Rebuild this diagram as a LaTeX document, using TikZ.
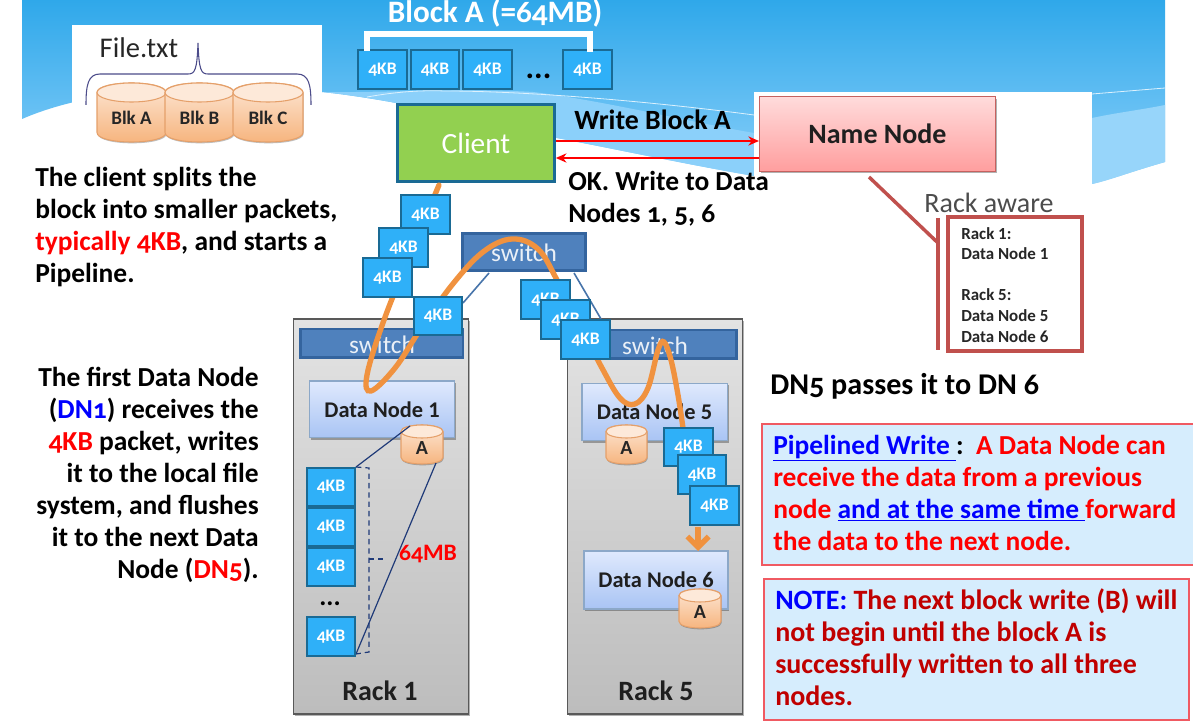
\documentclass[tikz,border=0pt]{standalone}
\usepackage{fontspec}
\usetikzlibrary{shadows,arrows.meta}
\setmainfont[Ligatures=TeX]{Carlito}
\newfontfamily\osf[Numbers=OldStyle,Ligatures=TeX]{Carlito}
\definecolor{skyT}{HTML}{2FA8EA}
\definecolor{skyL}{HTML}{8BD0FA}
\definecolor{pktF}{HTML}{2FB0F8}
\definecolor{pktD}{HTML}{1A6A94}
\definecolor{swF}{HTML}{4F81BD}
\definecolor{swD}{HTML}{34649E}
\definecolor{orangeL}{HTML}{F0923F}
\definecolor{rackR}{HTML}{C0504D}
\definecolor{infoF}{HTML}{D6EDFD}
\definecolor{infoD}{HTML}{F05A62}
\definecolor{navy}{HTML}{1F3A78}
\definecolor{dkred}{HTML}{C00000}
\definecolor{cylT}{HTML}{FDE9D9}
\definecolor{cylB}{HTML}{F6B27A}
\definecolor{cylD}{HTML}{E5A06A}
\definecolor{dnT}{HTML}{DFE9FD}
\definecolor{dnB}{HTML}{A9C4F4}
\definecolor{dnD}{HTML}{8CA8C8}
\definecolor{clientF}{HTML}{92D050}
\newcommand\rd[1]{\textcolor{red}{#1}}
\newcommand\bl[1]{\textcolor{blue}{#1}}
\tikzset{
  pkt/.style={draw=pktD,line width=1.6pt,fill=pktF,text=white,font=\osf\bfseries\fontsize{13.2}{14}\selectfont,
    minimum width=36.5pt,minimum height=29pt,inner sep=0pt},
  switchbox/.style={draw=swD,line width=2pt,fill=swF,inner sep=0pt},
  switchtext/.style={text=white!88!swF,font=\fontsize{19}{20}\selectfont,inner sep=0pt},
  rackbox/.style={draw=black!65,line width=1pt,top color=black!11,bottom color=black!26,minimum width=131pt,minimum height=296pt,inner sep=0pt,
    drop shadow={shadow xshift=1pt,shadow yshift=-1.5pt,opacity=.3,fill=black}},
  dnbox/.style={draw=dnD,line width=1pt,top color=dnT,bottom color=dnB,
    font=\bfseries\fontsize{16.8}{18}\selectfont,text=black!88,inner sep=0pt,
    drop shadow={shadow xshift=1pt,shadow yshift=-1.5pt,opacity=.3,fill=black}},
  para/.style={font=\osf\bfseries\fontsize{20.6}{24}\selectfont,inner sep=0pt,text=black},
  infobox/.style={draw=infoD,line width=1.6pt,fill=infoF,inner sep=0pt},
  redarrow/.style={draw=red,line width=1pt,-{Stealth[length=8pt,width=7pt]}},
  orangeflow/.style={draw=orangeL,line width=4pt,line cap=round},
  link/.style={draw=#1,line width=1.2pt},
  racklabel/.style={font=\bfseries\fontsize{21}{22}\selectfont,text=black!88,inner sep=0pt},
  cyllabel/.style={font=\bfseries\fontsize{#1}{#1}\selectfont,text=black!85,inner sep=0pt}
}
% \cyl{name}{x0}{y0}{x1}{y1}{ry}{label size}{label}
\newcommand\cyl[8]{%
  \pgfmathsetmacro\cxm{(#2+#4)/2}\pgfmathsetmacro\cxr{(#4-#2)/2}
  \pgfmathsetmacro\cya{#3+#6}\pgfmathsetmacro\cyb{#5-#6}\pgfmathsetmacro\cyk{#5+#6/3}
  \shade[top color=cylT,bottom color=cylB,draw=cylD,line width=.8pt,
     drop shadow={shadow xshift=.5pt,shadow yshift=-1pt,opacity=.25,fill=black}]
    (#2,\cya) -- (#2,\cyb) .. controls (#2,\cyk) and (#4,\cyk) .. (#4,\cyb) -- (#4,\cya)
    .. controls (#4,#3-#6/3) and (#2,#3-#6/3) .. (#2,\cya) -- cycle;
  \draw[draw=cylD,line width=.8pt,fill=cylT] (\cxm,\cya) ellipse [x radius=\cxr, y radius=#6];
  \node[cyllabel=#7] (#1) at (\cxm,{(#3+#5)/2+#6*.55}) {#8};
}
\begin{document}
\begin{tikzpicture}[x=.75pt,y=-.75pt]
\useasboundingbox (0,0) rectangle (1193,723);
% background waves
\fill[white] (0,0) rectangle (1193,723);
\shade[top color=skyT,bottom color=skyL,shading angle=0]
  (22,0) -- (1165,0) -- (1165,162) .. controls (1130,172) and (1110,180) .. (1092,184)
  -- (754,176) .. controls (690,165) and (620,150) .. (557,138) .. controls (500,125) and (400,100) .. (322,92)
  .. controls (220,82) and (100,85) .. (22,119) -- cycle;
\fill[skyL] (322,92) .. controls (370,93) and (470,88) .. (533,92) .. controls (600,100) and (690,122) .. (754,133)
  -- (754,176) .. controls (690,165) and (620,150) .. (557,138) .. controls (500,125) and (400,100) .. (322,92) -- cycle;
\fill[skyL!90!white] (1092,118) .. controls (1115,113) and (1140,110) .. (1165,105) -- (1165,162) .. controls (1130,172) and (1110,180) .. (1092,184) -- cycle;
\draw[white!70!skyL,line width=.6pt] (1092,94) -- (1165,88);
\draw[white!70!skyL,line width=.6pt] (367,97) .. controls (395,92) and (420,90) .. (445,91) .. controls (520,91) and (640,100) .. (754,115);
\fill[white] (72,25) rectangle (322,110);
\fill[white] (754,92) rectangle (1092,190);

% file + blocks
\draw[black!40!blue!40!gray,line width=.8pt] (86,105) .. controls (86,85) and (88,74) .. (100,74) -- (188,74)
  .. controls (195,74) and (197,70) .. (198,43) .. controls (199,70) and (201,74) .. (208,74) -- (297,74)
  .. controls (309,74) and (311,85) .. (311,105);
\node[font=\fontsize{21.4}{22}\selectfont,text=black!85,inner sep=0pt] (filetxt) at (139,48) {File.txt};
\cyl{blka}{97}{83}{166}{142}{9.5}{14.3}{Blk A}
\cyl{blkb}{165}{83}{234}{142}{9.5}{14.3}{Blk B}
\cyl{blkc}{233}{83}{303}{142}{9.5}{14.3}{Blk C}

% top block strip
\node[font=\osf\bfseries\fontsize{23.4}{24}\selectfont,text=white,inner sep=0pt] (blocka) at (495,13) {Block A (=64MB)};
\node[pkt] (t1) at (382.5,69.5) {4KB};
\node[pkt] (t2) at (435,69.5) {4KB};
\node[pkt] (t3) at (487.5,69.5) {4KB};
\node[pkt] (t4) at (587.5,69.5) {4KB};
\draw[white,line width=3.8pt] (367,51) -- (367,34) -- (590,34) -- (590,52);
\node[font=\bfseries\fontsize{24}{24}\selectfont,inner sep=0pt] (dotsa) at (538.5,76) {...};

% client & name node
\node[draw=pktD,line width=1.8pt,fill=clientF,minimum width=118pt,minimum height=58pt,inner sep=0pt,text=white,font=\fontsize{22}{24}\selectfont] (client) at (476,143) {Client};
\node[draw=rackR!90,line width=.9pt,top color=red!14!white,bottom color=red!38!white,minimum width=177pt,minimum height=56pt,inner sep=0pt,
  font=\bfseries\fontsize{21}{22}\selectfont,text=black!88,drop shadow={shadow xshift=1pt,shadow yshift=-1.5pt,opacity=.3,fill=black}] (namenode) at (877.5,134) {Name Node};
\coordinate (wa) at (client.east |- 0,141);
\coordinate (wb) at (namenode.west |- 0,141);
\coordinate (oa) at (namenode.west |- 0,158);
\coordinate (ob) at (client.east |- 0,158);
\draw[redarrow] (wa) -- (wb);
\draw[redarrow] (oa) -- (ob);
\node[para,anchor=west,font=\bfseries\fontsize{20.9}{24}\selectfont] (writea) at (574,120) {Write Block A};
\node[para,anchor=north west,align=left] (okw) at (568,171) {OK. Write to Data\\Nodes 1, 5, 6};

% rack aware
\coordinate (raA) at (869,177);
\coordinate (raB) at (937,242);
\draw[rackR,line width=2.6pt] (raA) -- (raB);
\draw[rackR,line width=3pt] (938,218) -- (938,350);
\node[draw=rackR,line width=3pt,minimum width=100pt,minimum height=100pt,inner sep=0pt] (rackbx) at (1015,284) {};
\node[font=\fontsize{21}{22}\selectfont,text=black!70,inner sep=0pt] (rackaw) at (989,203) {Rack aware};
\node[anchor=north west,align=left,inner sep=0pt,font=\bfseries\fontsize{12.7}{15.45}\selectfont,text=black!85] (racktxt) at (961,227) {Rack 1:\\Data Node 1\\[15.45pt]Rack 5:\\Data Node 5\\Data Node 6};

% paragraphs
\node[para,anchor=north west,align=left] (p1) at (35,167) {The client splits the\\block into smaller packets,\\\rd{typically 4KB}, and starts a\\Pipeline.};
\node[para,anchor=north east,align=right] (p2) at (259,367) {The first Data Node\\(\bl{DN1}) receives the\\\rd{4KB} packet, writes\\it to the local file\\system, and flushes\\it to the next Data\\Node (\rd{DN5}).};
\node[para,anchor=west,font=\osf\bfseries\fontsize{22.6}{24}\selectfont] (dn56) at (770,386) {DN5 passes it to DN 6};

% info boxes
\node[infobox,minimum width=326pt,minimum height=105.5pt,anchor=north west] (pipe) at (761,423) {};
\node[para,anchor=north west,align=left,text=red,font=\bfseries\fontsize{20.6}{24}\selectfont] (pipet) at (773,435) {\bl{\underline{Pipelined Write\ }}\textcolor{black}{:}\ \ A Data Node can\\receive the data from a previous\\node \bl{\underline{and at the same time\ }}forward\\the data to the next node.};
\node[infobox,minimum width=319pt,minimum height=106pt,anchor=north west] (note) at (763,578) {};
\node[para,anchor=north west,align=left,text=dkred,font=\bfseries\fontsize{21}{24}\selectfont] (notet) at (775,588) {\bl{NOTE:} The next block write (B) will\\not begin until the block A is\\successfully written to all three\\nodes.};

% racks
\node[rackbox] (rack1) at (381,516.5) {};
\node[rackbox] (rack5) at (655,516.5) {};
\node[racklabel] (r1l) at (380,691) {Rack 1};
\node[racklabel] (r5l) at (656,691) {Rack 5};
% switches
\node[switchbox,minimum width=92pt,minimum height=28pt] (swtop) at (524,252) {};
\coordinate (swla) at (489,273); \coordinate (swlb) at (463,303);
\coordinate (swra) at (574,273); \coordinate (swrb) at (601,319);
\draw[link=swF!90!black] (swla) -- (swlb);
\draw[link=swF!90!black] (swra) -- (swrb);
\node[switchbox,minimum width=122pt,minimum height=21.5pt] (sw1) at (381.5,343.5) {};
\node[switchbox,minimum width=122pt,minimum height=21.5pt] (sw5) at (655,344.5) {};
\node[switchtext] at (524,253) {switch};
\node[switchtext] at (382,345) {switch};
\node[switchtext] at (655,346) {switch};
% data nodes
\node[dnbox,minimum width=109pt,minimum height=42.5pt] (dn1) at (382,409.5) {Data Node 1};
\node[dnbox,minimum width=109pt,minimum height=43pt] (dn5) at (654.5,412) {Data Node 5};
\node[dnbox,minimum width=108pt,minimum height=43.5pt] (dn6) at (656,580) {Data Node 6};
\cyl{ca1}{401}{425}{443}{464}{6.5}{15}{A}
\cyl{ca5}{606}{425}{647}{464}{6.5}{15}{A}
\cyl{ca6}{679}{589}{721}{628}{6.5}{15}{A}

% 64MB fan
\coordinate (fa) at (356,467); \coordinate (fb) at (356,654);
\coordinate (fc) at (369,468); \coordinate (fd) at (369,652);
\coordinate (fe) at (369,559); \coordinate (ff) at (383,559);
\draw[navy,line width=.9pt] (410,426) -- (fa);
\draw[navy,line width=.9pt] (436,463) -- (fb);
\draw[navy,line width=.9pt,dash pattern=on 4pt off 3pt] (fa) -- (fc) -- (fd) -- (fb);
\draw[navy,line width=.9pt,dash pattern=on 4pt off 3pt] (fe) -- (ff);
\node[font=\osf\bfseries\fontsize{17.7}{18}\selectfont,text=red,inner sep=0pt] (mb) at (428,554) {64MB};
\node[pkt] (s1) at (331,487) {4KB};
\node[pkt] (s2) at (331,527) {4KB};
\node[pkt] (s3) at (331,567) {4KB};
\node[font=\bfseries\fontsize{20}{20}\selectfont,inner sep=0pt] (sdots) at (330,604) {...};
\node[pkt] (s4) at (331,636.5) {4KB};

% orange flow (behind the packets)
\draw[orangeflow] plot[smooth,tension=.62] coordinates {(439,185) (412,250) (384,320) (367,375) (371,391) (395,368) (420,330) (452,285) (483,252) (512,239) (538,249) (557,280) (580,325) (602,368) (620,398) (635,404) (648,388) (658,350) (664,342) (671,360) (678,395) (683,428)};
\draw[orangeL,line width=4pt,-{Straight Barb[length=8pt,width=16pt,line width=4pt]}] (698,527) -- (698,551);

% packets in transit
\node[pkt] (m1) at (425.5,214.5) {4KB};
\node[pkt] (m2) at (403.5,247.5) {4KB};
\node[pkt] (m3) at (387.5,277.5) {4KB};
\node[pkt] (m4) at (438,316) {4KB};
\node[pkt] (m5) at (545.5,299.5) {4KB};
\node[pkt] (m6) at (565.5,319.5) {4KB};
\node[pkt] (m7) at (585.5,339.5) {4KB};
\node[pkt] (m8) at (688.5,447) {4KB};
\node[pkt] (m9) at (702,474.5) {4KB};
\node[pkt] (m10) at (714.5,505.5) {4KB};
\end{tikzpicture}
\end{document}
